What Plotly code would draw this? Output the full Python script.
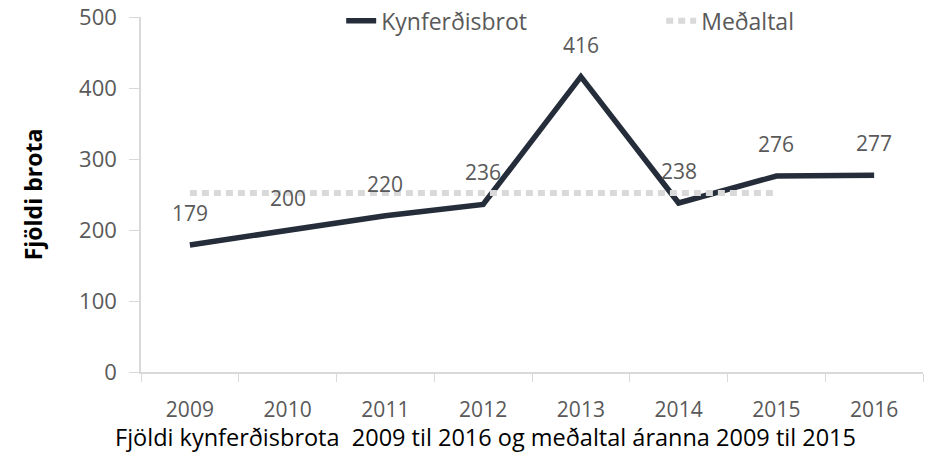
import plotly.graph_objects as go

years = ["2009", "2010", "2011", "2012", "2013", "2014", "2015", "2016"]
brot = [179, 200, 220, 236, 416, 238, 276, 277]
mean_years = ["2009", "2010", "2011", "2012", "2013", "2014", "2015"]
mean_vals = [252, 252, 252, 252, 252, 252, 252]
x_title = "Fjöldi kynferðisbrota  2009 til 2016 og meðaltal áranna 2009 til 2015"
y_title = "Fjöldi brota"

LINE = "#252d3a"
GRAY = "#595959"
AX = "#d9d9d9"
FONT = "Open Sans"

fig = go.Figure()
fig.add_trace(go.Scatter(x=years, y=brot, mode="lines", name="Kynferðisbrot",
                         line=dict(color=LINE, width=5.5)))
fig.add_trace(go.Scatter(x=mean_years, y=mean_vals, mode="lines", name="Meðaltal",
                         line=dict(color=AX, width=6, dash="7px,5px")))

for i, (x, y) in enumerate(zip(years, brot)):
    fig.add_annotation(x=i, y=y, xref="x", yref="y", text=str(y), showarrow=False,
                       yshift=32, font=dict(family=FONT, size=21, color=GRAY))

fig.add_annotation(x=0.441, y=-0.2349, xref="paper", yref="paper", text=x_title,
                   showarrow=False, xanchor="center", yanchor="bottom",
                   font=dict(family=FONT, size=23.5, color="#000000"))

fig.update_layout(
    width=928, height=456,
    margin=dict(l=141, r=5, t=17, b=83.5, autoexpand=False),
    plot_bgcolor="white", paper_bgcolor="white",
    font=dict(family=FONT, color=GRAY),
    showlegend=True,
    legend=dict(orientation="h", x=0.256, xanchor="left", y=0.989, yanchor="middle",
                font=dict(family=FONT, size=23, color=GRAY), bgcolor="rgba(0,0,0,0)",
                entrywidth=275),
    xaxis=dict(type="category", showgrid=False, showline=True, linecolor=AX, linewidth=1.5,
               ticks="outside", tickson="boundaries", ticklen=8, tickcolor=AX,
               ticklabelstandoff=18,
               tickfont=dict(family=FONT, size=21, color=GRAY),
               range=[-0.5, 7.5]),
    yaxis=dict(range=[0, 500], dtick=100, showgrid=False, showline=True, linecolor=AX, linewidth=1.5,
               ticks="outside", ticklen=10, tickcolor=AX, zeroline=False,
               ticklabelstandoff=8,
               tickfont=dict(family=FONT, size=22, color=GRAY),
               title=dict(text="<b>" + y_title + "</b>", font=dict(family=FONT, size=23, color="#000000"),
                          standoff=30)),
)

fig.write_html("out.html", config={"displayModeBar": False},
               post_script="document.body.style.margin='0';")
